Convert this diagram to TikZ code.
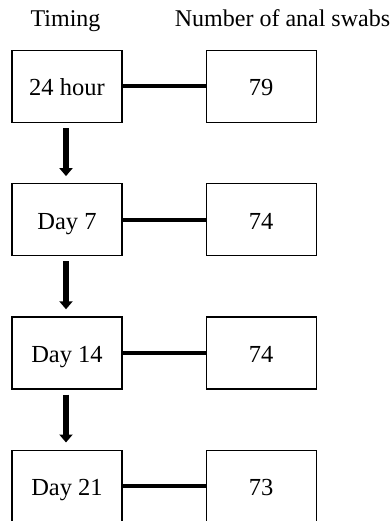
\documentclass[tikz,border=0pt]{standalone}
\usepackage{fontspec}
\setmainfont{Liberation Serif}
\usetikzlibrary{positioning}
\usetikzlibrary{arrows.meta}
\tikzstyle{arrow} = [line width=6.5pt,-{Triangle[width=13pt,length=8pt]}]
\tikzstyle{link} = [line width=4pt]

\begin{document}
\begin{tikzpicture}[
    x = 1pt, y = 1pt,
    box/.style = {draw, line width = 1.2pt, minimum width = 110pt, minimum height = 72pt,
                  text height = 19pt, text depth = 0pt, font = \fontsize{24.5}{28}\selectfont},
    head/.style = {anchor = base, inner sep = 0pt, font = \fontsize{24}{28}\selectfont},
    node distance = 60pt and 83pt
  ]
  \useasboundingbox (0,0) rectangle (391,-521);

  % column titles
  \node[head] (timing) at (65.5,-27) {Timing};
  \node[head] (count) at (282.5,-27) {Number of anal swabs};

  % timing boxes
  \node[box] (h24) at (67,-86.5) {24 hour};
  \node[box, below = of h24] (d7) {Day 7};
  \node[box, below = of d7] (d14) {Day 14};
  \node[box, below = of d14] (d21) {Day 21};

  % number boxes
  \node[box, right = of h24] (n79) {79};
  \node[box, right = of d7] (n74a) {74};
  \node[box, right = of d14] (n74b) {74};
  \node[box, right = of d21] (n73) {73};

  % links
  \draw[link] (h24) -- (n79);
  \draw[link] (d7) -- (n74a);
  \draw[link] (d14) -- (n74b);
  \draw[link] (d21) -- (n73);

  % arrows
  \draw[arrow] ([xshift=-1pt, yshift=-5pt]h24.south) -- ([xshift=-1pt, yshift=7pt]d7.north);
  \draw[arrow] ([xshift=-1pt, yshift=-5pt]d7.south) -- ([xshift=-1pt, yshift=7pt]d14.north);
  \draw[arrow] ([xshift=-1pt, yshift=-5pt]d14.south) -- ([xshift=-1pt, yshift=7pt]d21.north);
\end{tikzpicture}
\end{document}
